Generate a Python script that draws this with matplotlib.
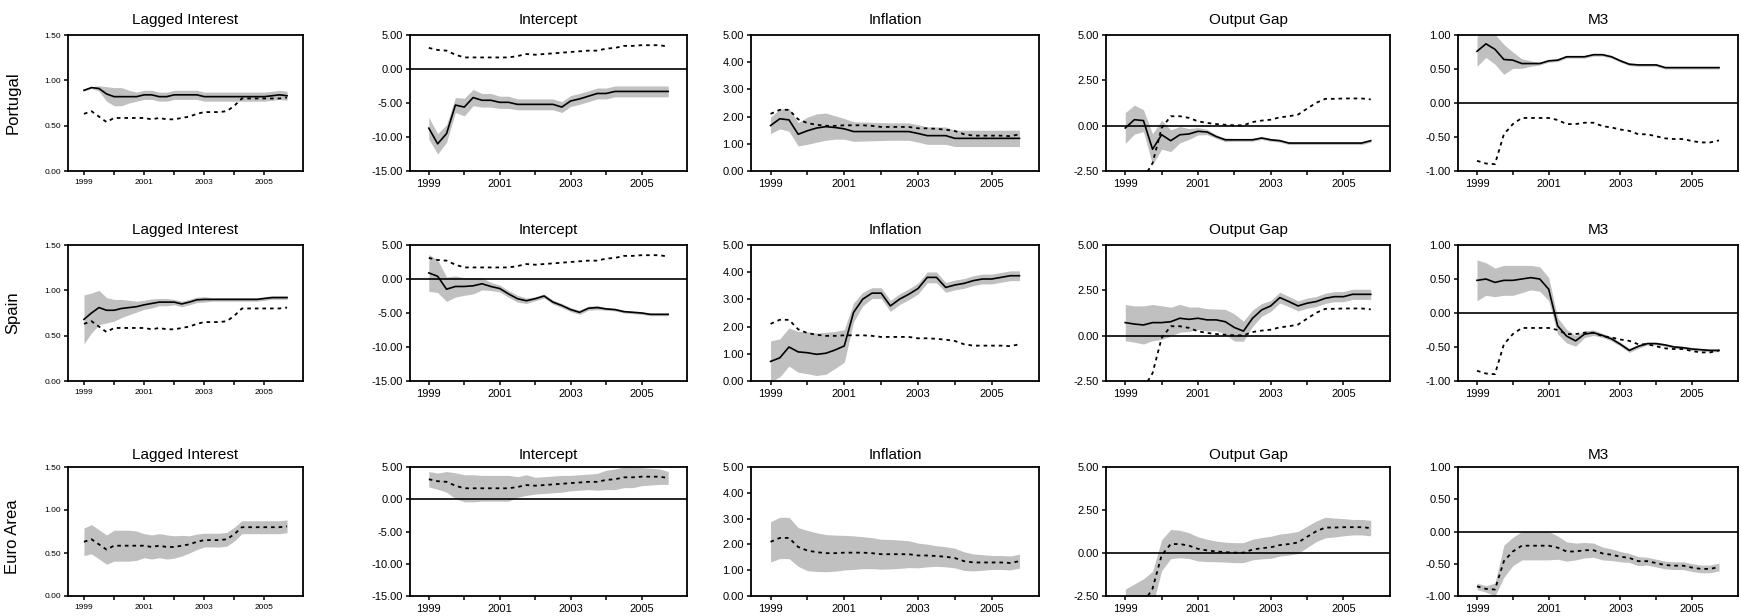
import numpy as np
import matplotlib
matplotlib.use('Agg')
import matplotlib.pyplot as plt
from matplotlib.ticker import FormatStrFormatter

### Quarterly time axis
years = 1999 + np.arange(28) * 0.25

### Lagged Interest
pt_lag = [0.89, 0.92, 0.91, 0.85, 0.82, 0.82, 0.82, 0.82, 0.84, 0.84, 0.82, 0.82, 0.84, 0.84,
          0.84, 0.84, 0.82, 0.82, 0.82, 0.82, 0.82, 0.82, 0.82, 0.82, 0.82, 0.83, 0.84, 0.83]
pt_lag_w = [0.01, 0.01, 0.03, 0.08, 0.10, 0.10, 0.07, 0.05, 0.05, 0.05, 0.05, 0.05, 0.05, 0.05,
            0.05, 0.05, 0.05, 0.05, 0.05, 0.05, 0.05, 0.05, 0.05, 0.05, 0.05, 0.05, 0.05, 0.05]
es_lag = [0.68, 0.75, 0.81, 0.78, 0.78, 0.80, 0.81, 0.82, 0.84, 0.855, 0.87, 0.87, 0.87, 0.85,
          0.87, 0.895, 0.90, 0.90, 0.90, 0.90, 0.90, 0.90, 0.90, 0.90, 0.91, 0.92, 0.92, 0.92]
es_lag_w = [0.27, 0.22, 0.19, 0.14, 0.12, 0.10, 0.08, 0.06, 0.05, 0.05, 0.04, 0.04, 0.03, 0.03,
            0.03, 0.03, 0.03, 0.02, 0.02, 0.02, 0.02, 0.02, 0.02, 0.02, 0.02, 0.02, 0.02, 0.02]
ea_lag = [0.63, 0.66, 0.60, 0.54, 0.585, 0.585, 0.585, 0.585, 0.585, 0.57, 0.585, 0.57, 0.57, 0.585,
          0.60, 0.63, 0.65, 0.65, 0.65, 0.66, 0.72, 0.80, 0.80, 0.80, 0.80, 0.80, 0.80, 0.81]
ea_lag_w = [0.16, 0.17, 0.17, 0.17, 0.18, 0.18, 0.18, 0.17, 0.14, 0.14, 0.14, 0.14, 0.13, 0.12,
            0.10, 0.09, 0.08, 0.08, 0.08, 0.08, 0.08, 0.075, 0.075, 0.075, 0.075, 0.075, 0.075, 0.075]

### Intercept
pt_int = [-8.7, -11.0, -9.5, -5.3, -5.6, -4.2, -4.6, -4.6, -4.9, -4.9, -5.2, -5.2, -5.2, -5.2,
          -5.2, -5.6, -4.7, -4.4, -4.0, -3.6, -3.6, -3.3, -3.3, -3.3, -3.3, -3.3, -3.3, -3.3]
pt_int_w = [1.6, 1.5, 1.3, 1.1, 1.3, 1.2, 1.0, 1.0, 0.9, 0.9, 0.8, 0.8, 0.8, 0.8,
            0.8, 0.8, 0.8, 0.8, 0.8, 0.8, 0.8, 0.8, 0.8, 0.8, 0.8, 0.8, 0.8, 0.8]
es_int = [0.9, 0.4, -1.5, -1.1, -1.1, -1.0, -0.7, -1.1, -1.4, -2.2, -2.9, -3.2, -2.9, -2.5,
          -3.4, -3.9, -4.5, -4.9, -4.3, -4.2, -4.4, -4.5, -4.8, -4.9, -5.0, -5.2, -5.2, -5.2]
es_int_w = [2.7, 2.4, 1.8, 1.55, 1.3, 1.2, 0.9, 0.6, 0.5, 0.5, 0.5, 0.4, 0.3, 0.3,
            0.3, 0.3, 0.3, 0.3, 0.3, 0.3, 0.2, 0.2, 0.2, 0.2, 0.2, 0.2, 0.2, 0.2]
ea_int = [3.1, 2.8, 2.7, 2.1, 1.7, 1.7, 1.7, 1.7, 1.7, 1.7, 1.9, 2.2, 2.1, 2.2,
          2.3, 2.4, 2.5, 2.6, 2.7, 2.7, 3.0, 3.1, 3.4, 3.4, 3.5, 3.5, 3.5, 3.3]
ea_int_w = [1.2, 1.25, 1.6, 2.0, 2.1, 2.1, 2.0, 2.0, 2.0, 2.0, 1.6, 1.6, 1.3, 1.3,
            1.3, 1.3, 1.2, 1.2, 1.2, 1.3, 1.5, 1.6, 1.6, 1.6, 1.4, 1.3, 1.2, 1.0]

### Inflation
pt_inf = [1.67, 1.92, 1.88, 1.35, 1.48, 1.58, 1.63, 1.60, 1.55, 1.45, 1.45, 1.45, 1.45, 1.45,
          1.45, 1.45, 1.38, 1.30, 1.30, 1.30, 1.20, 1.20, 1.20, 1.20, 1.20, 1.20, 1.20, 1.20]
pt_inf_w = [0.30, 0.37, 0.42, 0.43, 0.50, 0.52, 0.50, 0.43, 0.38, 0.36, 0.35, 0.34, 0.33, 0.32,
            0.32, 0.32, 0.32, 0.32, 0.32, 0.32, 0.30, 0.30, 0.30, 0.30, 0.30, 0.30, 0.30, 0.30]
es_inf = [0.72, 0.85, 1.25, 1.07, 1.04, 0.98, 1.02, 1.14, 1.29, 2.52, 3.01, 3.23, 3.23, 2.76,
          3.01, 3.19, 3.40, 3.81, 3.81, 3.44, 3.53, 3.59, 3.69, 3.75, 3.75, 3.81, 3.87, 3.87]
es_inf_w = [0.75, 0.70, 0.70, 0.75, 0.77, 0.78, 0.77, 0.68, 0.60, 0.35, 0.25, 0.20, 0.20, 0.20,
            0.20, 0.20, 0.20, 0.20, 0.20, 0.18, 0.18, 0.18, 0.18, 0.18, 0.18, 0.18, 0.18, 0.18]
ea_inf = [2.10, 2.25, 2.25, 1.90, 1.76, 1.70, 1.66, 1.66, 1.68, 1.68, 1.68, 1.66, 1.62, 1.62,
          1.62, 1.62, 1.57, 1.57, 1.55, 1.52, 1.47, 1.35, 1.30, 1.30, 1.30, 1.30, 1.28, 1.35]
ea_inf_w = [0.78, 0.80, 0.80, 0.75, 0.78, 0.75, 0.72, 0.70, 0.67, 0.65, 0.62, 0.60, 0.58, 0.57,
            0.55, 0.52, 0.48, 0.44, 0.40, 0.39, 0.38, 0.36, 0.33, 0.30, 0.27, 0.27, 0.27, 0.27]

### Output Gap
pt_gap = [-0.13, 0.33, 0.28, -1.30, -0.50, -0.83, -0.50, -0.46, -0.31, -0.35, -0.60, -0.78, -0.78, -0.78,
          -0.78, -0.68, -0.78, -0.83, -0.96, -0.96, -0.96, -0.96, -0.96, -0.96, -0.96, -0.96, -0.96, -0.83]
pt_gap_w = [0.85, 0.80, 0.60, 0.85, 0.80, 0.60, 0.45, 0.30, 0.20, 0.15, 0.10, 0.10, 0.08, 0.08,
            0.08, 0.08, 0.08, 0.08, 0.08, 0.08, 0.08, 0.08, 0.08, 0.08, 0.08, 0.08, 0.08, 0.08]
es_gap = [0.72, 0.64, 0.59, 0.72, 0.72, 0.77, 0.96, 0.90, 0.96, 0.87, 0.87, 0.77, 0.45, 0.25,
          0.96, 1.42, 1.64, 2.10, 1.88, 1.64, 1.79, 1.88, 2.06, 2.15, 2.15, 2.28, 2.28, 2.28]
es_gap_w = [1.00, 1.00, 1.05, 1.00, 0.93, 0.80, 0.77, 0.68, 0.62, 0.62, 0.60, 0.68, 0.75, 0.55,
            0.45, 0.35, 0.30, 0.30, 0.28, 0.28, 0.28, 0.28, 0.28, 0.28, 0.28, 0.28, 0.28, 0.28]
ea_gap = [-3.6, -3.3, -2.9, -2.07, -0.13, 0.52, 0.52, 0.43, 0.24, 0.15, 0.09, 0.05, 0.02, 0.02,
          0.20, 0.28, 0.33, 0.46, 0.52, 0.61, 0.94, 1.26, 1.48, 1.48, 1.50, 1.50, 1.50, 1.45]
ea_gap_w = [1.50, 1.50, 1.40, 1.00, 0.90, 0.85, 0.80, 0.75, 0.70, 0.65, 0.60, 0.58, 0.58, 0.58,
            0.60, 0.62, 0.64, 0.64, 0.64, 0.64, 0.62, 0.60, 0.60, 0.55, 0.50, 0.45, 0.45, 0.45]

### M3
pt_m3 = [0.76, 0.87, 0.79, 0.64, 0.63, 0.58, 0.58, 0.58, 0.62, 0.63, 0.68, 0.68, 0.68, 0.71,
         0.71, 0.68, 0.62, 0.57, 0.56, 0.56, 0.56, 0.52, 0.52, 0.52, 0.52, 0.52, 0.52, 0.52]
pt_m3_w = [0.22, 0.20, 0.22, 0.22, 0.12, 0.07, 0.04, 0.02, 0.02, 0.02, 0.02, 0.02, 0.02, 0.02,
           0.02, 0.02, 0.02, 0.02, 0.02, 0.02, 0.02, 0.02, 0.02, 0.02, 0.02, 0.02, 0.02, 0.02]
es_m3 = [0.48, 0.50, 0.45, 0.48, 0.48, 0.50, 0.52, 0.50, 0.35, -0.19, -0.34, -0.41, -0.31, -0.29,
         -0.33, -0.38, -0.46, -0.55, -0.49, -0.45, -0.45, -0.47, -0.50, -0.51, -0.53, -0.54, -0.55, -0.55]
es_m3_w = [0.30, 0.24, 0.21, 0.22, 0.22, 0.20, 0.18, 0.18, 0.17, 0.12, 0.10, 0.08, 0.05, 0.04,
           0.03, 0.03, 0.03, 0.03, 0.03, 0.02, 0.02, 0.02, 0.02, 0.02, 0.02, 0.02, 0.02, 0.02]
ea_m3 = [-0.85, -0.89, -0.90, -0.46, -0.31, -0.22, -0.22, -0.22, -0.22, -0.25, -0.31, -0.31, -0.29, -0.29,
         -0.34, -0.36, -0.39, -0.41, -0.46, -0.46, -0.49, -0.52, -0.53, -0.53, -0.56, -0.58, -0.58, -0.55]
ea_m3_w = [0.05, 0.05, 0.10, 0.25, 0.22, 0.22, 0.22, 0.22, 0.22, 0.18, 0.15, 0.13, 0.12, 0.11,
           0.10, 0.09, 0.08, 0.07, 0.07, 0.06, 0.06, 0.06, 0.06, 0.06, 0.06, 0.06, 0.06, 0.06]

### Panel settings
titles = ['Lagged Interest', 'Intercept', 'Inflation', 'Output Gap', 'M3']
rowlabels = ['Portugal', 'Spain', 'Euro Area']
ylims = [(0, 1.5), (-15, 5), (0, 5), (-2.5, 5), (-1, 1)]
ysteps = [0.5, 5, 1, 2.5, 0.5]
xticklabels = ['1999', '2001', '2003', '2005']

portugal = [(pt_lag, pt_lag_w), (pt_int, pt_int_w), (pt_inf, pt_inf_w), (pt_gap, pt_gap_w), (pt_m3, pt_m3_w)]
spain = [(es_lag, es_lag_w), (es_int, es_int_w), (es_inf, es_inf_w), (es_gap, es_gap_w), (es_m3, es_m3_w)]
euro = [(ea_lag, ea_lag_w), (ea_int, ea_int_w), (ea_inf, ea_inf_w), (ea_gap, ea_gap_w), (ea_m3, ea_m3_w)]

plt.rc('font', family=['Liberation Sans', 'DejaVu Sans'])

W, H = 1741., 616.
fig = plt.figure(figsize=(W / 100, H / 100), dpi=100)

### Pixel boxes of the axes
cols = [(68, 303), (410, 687), (751, 1039), (1106, 1390), (1458, 1738)]
rows = [(35, 171), (245, 381), (467, 596)]
band = '#c0c0c0'
dots = (0, (2.0, 2.2))

for r, (top, bot) in enumerate(rows):
    for c, (left, right) in enumerate(cols):
        ax = fig.add_axes([left / W, 1 - bot / H, (right - left) / W, (bot - top) / H])
        ea_mid, ea_w = np.array(euro[c][0]), np.array(euro[c][1])
        if r < 2:
            cty = portugal if r == 0 else spain
            mid, w = np.array(cty[c][0]), np.array(cty[c][1])
            ax.fill_between(years, mid - w, mid + w, color=band, lw=0, zorder=1)
            ax.plot(years, ea_mid, color='k', ls=dots, lw=1.3, zorder=3)
            ax.plot(years, mid, color='k', lw=1.2, zorder=4)
        else:
            ax.fill_between(years, ea_mid - ea_w, ea_mid + ea_w, color=band, lw=0, zorder=1)
            ax.plot(years, ea_mid, color='k', ls=dots, lw=1.3, zorder=3)

        lo, hi = ylims[c]
        if lo < 0:
            ax.axhline(0, color='k', lw=1.2, zorder=2)
        ax.set_ylim(lo, hi)
        ax.set_yticks(np.arange(lo, hi + 1e-9, ysteps[c]))
        ax.yaxis.set_major_formatter(FormatStrFormatter('%.2f'))
        ax.set_xlim(1998.47, 2006.28)
        ax.set_xticks([1999, 2001, 2003, 2005])
        ax.set_xticklabels(xticklabels)
        ax.set_xticks([2000, 2002, 2004], minor=True)

        fs = 6 if c == 0 else 8
        ax.tick_params(which='both', direction='out', length=3, width=1.1, labelsize=fs, pad=2)
        ax.tick_params(axis='x', pad=3)
        for sp in ax.spines.values():
            sp.set_linewidth(1.3)
        ax.set_title(titles[c], fontsize=11, pad=8 if r < 2 else 6)

    fig.text(13 / W, 1 - ((top + bot) / 2 + 5 * (r == 2)) / H, rowlabels[r], rotation=90,
             ha='center', va='center', fontsize=12)

plt.savefig('out.png', dpi=100)
